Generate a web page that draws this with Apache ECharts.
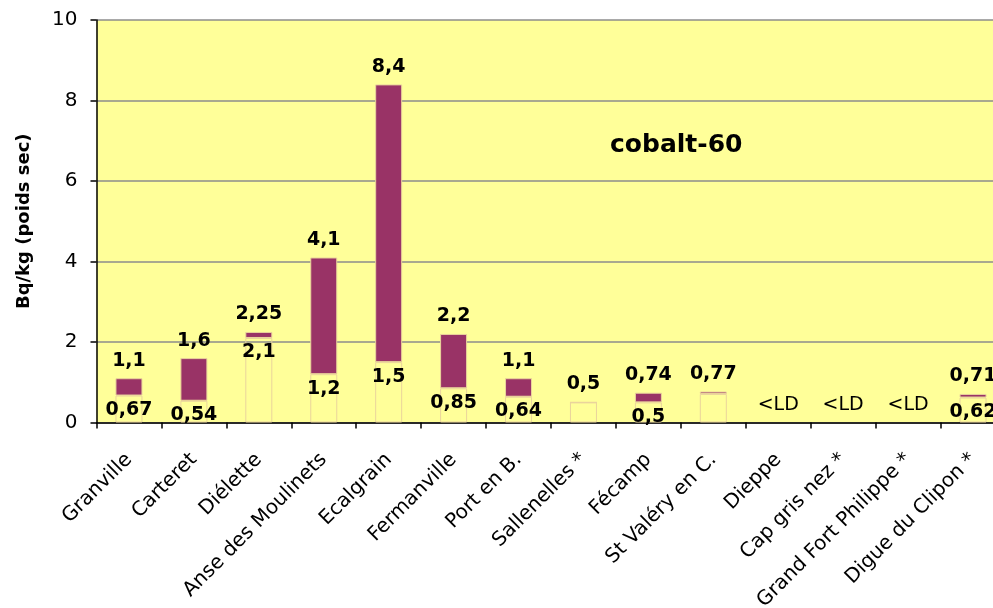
<!DOCTYPE html>
<html>
<head>
<meta charset="utf-8">
<script src="https://cdn.jsdelivr.net/npm/echarts@6/dist/echarts.min.js"></script>
<style>
  html, body { margin: 0; padding: 0; background: #ffffff; }
  #chart { width: 993px; height: 608px; }
</style>
</head>
<body>
<div id="chart"></div>
<script>
// Sampling sites along the Channel coast
var categories = ['Granville', 'Carteret', 'Diélette', 'Anse des Moulinets', 'Ecalgrain',
  'Fermanville', 'Port en B.', 'Sallenelles *', 'Fécamp', 'St Valéry en C.', 'Dieppe',
  'Cap gris nez *', 'Grand Fort Philippe *', 'Digue du Clipon *'];

// Cobalt-60 activity range, Bq/kg dry weight (null = no value)
var maxVals = [1.1, 1.6, 2.25, 4.1, 8.4, 2.2, 1.1, 0.5, 0.74, 0.77, null, null, null, 0.71];
var minVals = [0.67, 0.54, 2.1, 1.2, 1.5, 0.85, 0.64, null, 0.5, 0.71, null, null, null, 0.62];
// minimum printed under the range bar (false = not printed)
var minLabelShown = [true, true, true, true, true, true, true, false, true, false, false, false, false, true];
// sites below detection limit
var belowLimitText = '<LD';

var yTicks = [0, 2, 4, 6, 8, 10];

function fmt(v) { return String(v).replace('.', ','); }

var FONT = 'DejaVu Sans';
var MAROON = '#993366';
var PALE = '#ead49c';

var baseData = categories.map(function (c, i) {
  var mn = minVals[i], mx = maxVals[i];
  if (mn == null && mx == null) {
    return {
      value: 0,
      itemStyle: { borderWidth: 0, color: 'transparent' },
      label: { show: true, position: 'top', distance: 8, formatter: belowLimitText,
               fontWeight: 'normal', fontSize: 19, fontFamily: FONT, color: '#000' }
    };
  }
  var v = (mn != null) ? mn : mx;
  var item = { value: v };
  if (mn != null && minLabelShown[i]) {
    item.label = { show: true, position: 'insideTop', distance: 5, formatter: fmt(mn) };
  }
  return item;
});

var rangeData = categories.map(function (c, i) {
  var mn = minVals[i], mx = maxVals[i];
  if (mx == null) return null;
  var diff = (mn != null) ? +(mx - mn).toFixed(4) : 0;
  return {
    value: diff,
    label: { show: true, position: 'top', distance: 8, formatter: fmt(mx) }
  };
});

var chart = echarts.init(document.getElementById('chart'), null, { renderer: 'canvas' });

chart.setOption({
  animation: false,
  backgroundColor: '#ffffff',
  title: {
    text: 'cobalt-60',
    left: 605,
    top: 128,
    textStyle: { fontFamily: FONT, fontWeight: 'bold', fontSize: 25, color: '#000' }
  },
  grid: {
    left: 96.5,
    top: 20,
    width: 909,
    height: 402.5,
    containLabel: false,
    outerBoundsMode: 'none',
    show: true,
    backgroundColor: '#ffff99',
    borderWidth: 0
  },
  xAxis: {
    type: 'category',
    data: categories,
    axisLine: { lineStyle: { color: '#000', width: 1.5 } },
    axisTick: { show: true, length: 6, lineStyle: { color: '#000', width: 1.5 } },
    axisLabel: {
      interval: 0,
      rotate: 45,
      margin: 34,
      fontFamily: FONT,
      fontSize: 20,
      color: '#000'
    }
  },
  yAxis: {
    type: 'value',
    min: yTicks[0],
    max: yTicks[yTicks.length - 1],
    interval: 2,
    name: 'Bq/kg (poids sec)',
    nameLocation: 'middle',
    nameGap: 63,
    nameRotate: 90,
    nameTextStyle: { fontFamily: FONT, fontWeight: 'bold', fontSize: 18, color: '#000' },
    axisLine: { show: true, lineStyle: { color: '#000', width: 1.5 } },
    axisTick: { show: true, length: 6, lineStyle: { color: '#000', width: 1.5 } },
    axisLabel: { margin: 19, fontFamily: FONT, fontSize: 20, color: '#000' },
    splitLine: { show: true, lineStyle: { color: '#8c8c8c', width: 1.5 } }
  },
  series: [
    {
      name: 'base',
      type: 'bar',
      stack: 'range',
      barWidth: 27,
      data: baseData,
      itemStyle: { color: 'transparent', borderColor: PALE, borderWidth: 1 },
      label: { show: false, fontFamily: FONT, fontWeight: 'bold', fontSize: 19, color: '#000' },
      emphasis: { disabled: true }
    },
    {
      name: 'range',
      type: 'bar',
      stack: 'range',
      barWidth: 27,
      data: rangeData,
      itemStyle: { color: MAROON, borderColor: PALE, borderWidth: 1 },
      label: { show: false, fontFamily: FONT, fontWeight: 'bold', fontSize: 19, color: '#000' },
      emphasis: { disabled: true }
    }
  ]
});
</script>
</body>
</html>
